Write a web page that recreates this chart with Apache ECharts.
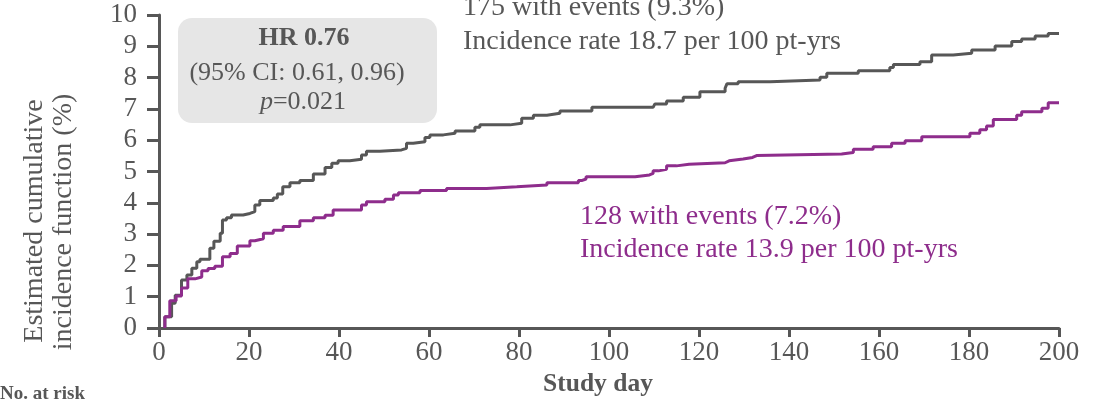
<!DOCTYPE html>
<html>
<head>
<meta charset="utf-8">
<script src="https://cdn.jsdelivr.net/npm/echarts@6/dist/echarts.min.js"></script>
<style>
html,body{margin:0;padding:0;background:#fff;}
#chart{width:1114px;height:405px;}
</style>
</head>
<body>
<div id="chart"></div>
<script>
// Study day ticks
var xTicks = [0, 20, 40, 60, 80, 100, 120, 140, 160, 180, 200];
var yTicks = [0, 1, 2, 3, 4, 5, 6, 7, 8, 9, 10];

// Gray group: [study day, cumulative incidence %]
var grayDays = [1.3, 2.8, 3.6, 5.0, 6.2, 7.3, 8.4, 9.1, 11.3, 12.2, 13.6, 14.1, 15, 16.1, 18.7, 20.2, 21.3, 22.4, 25.4, 26.3, 27.5, 29.1, 31.3, 34.3, 36.9, 38.4, 39.8, 42.4, 45, 46.1, 49.1, 53.9, 55, 56.5, 59.1, 60.2, 63.2, 65.8, 70.2, 71.3, 78, 80.6, 83.2, 86.2, 89.1, 96.2, 109.8, 110.2, 112.8, 116.5, 120.2, 125.8, 126.2, 128.7, 135.8, 146.9, 148.4, 155.4, 162.4, 163.2, 169.1, 171.7, 176.5, 180.6, 185.8, 189.5, 191.7, 194.7, 197.6, 200];
var grayVals = [0.36, 0.79, 1.05, 1.53, 1.69, 1.91, 2.12, 2.2, 2.55, 2.77, 3.03, 3.45, 3.52, 3.61, 3.66, 3.72, 3.93, 4.07, 4.15, 4.28, 4.51, 4.64, 4.71, 4.92, 5.13, 5.26, 5.34, 5.39, 5.53, 5.65, 5.69, 5.74, 5.9, 5.95, 6.09, 6.17, 6.22, 6.29, 6.41, 6.49, 6.54, 6.70, 6.80, 6.86, 6.93, 7.05, 7.09, 7.16, 7.25, 7.37, 7.55, 7.66, 7.80, 7.87, 7.92, 8.01, 8.14, 8.22, 8.32, 8.42, 8.51, 8.72, 8.78, 8.88, 9.01, 9.15, 9.23, 9.33, 9.41, 9.41];

// Purple group
var purpleDays = [1.3, 2.4, 3.8, 5.0, 6.4, 8, 9.5, 10.9, 12.4, 14.1, 15.8, 17.4, 20.2, 21.3, 23.2, 25.4, 27.6, 31.3, 34.3, 36.9, 38.7, 45, 46.1, 50.2, 52.1, 53.2, 58, 63.9, 72.8, 79.5, 86.2, 93.2, 93.9, 94.9, 105.8, 109, 109.8, 111, 112.8, 115, 117.8, 125.8, 126.7, 129.8, 131.9, 132.8, 151.7, 154.3, 158.7, 162.8, 165.8, 169.5, 180.2, 182.4, 183.9, 185.4, 190.6, 191.7, 196.2, 197.6, 200];
var purpleVals = [0.36, 0.87, 1.02, 1.28, 1.57, 1.63, 1.83, 1.9, 1.97, 2.28, 2.38, 2.62, 2.79, 2.85, 3.03, 3.12, 3.24, 3.43, 3.52, 3.6, 3.77, 3.93, 4.03, 4.11, 4.25, 4.32, 4.39, 4.46, 4.51, 4.57, 4.64, 4.71, 4.76, 4.83, 4.89, 4.94, 5.02, 5.07, 5.18, 5.23, 5.28, 5.34, 5.40, 5.45, 5.51, 5.56, 5.61, 5.71, 5.79, 5.90, 5.98, 6.11, 6.22, 6.33, 6.45, 6.66, 6.80, 6.91, 7.02, 7.20, 7.20];

var GRAY = '#575757';
var PURPLE = '#8e2d8c';
var FONT = '"Liberation Serif", "Times New Roman", serif';

function pairs(xs, ys) {
  var out = [[xs[0], 0]];
  for (var i = 0; i < xs.length; i++) out.push([xs[i], ys[i]]);
  return out;
}

var chart = echarts.init(document.getElementById('chart'));
chart.setOption({
  animation: false,
  backgroundColor: '#ffffff',
  grid: {left: 159, right: 55, top: 15, bottom: 77},
  xAxis: {
    type: 'value', min: xTicks[0], max: xTicks[xTicks.length - 1], interval: 20,
    axisLine: {show: true, lineStyle: {color: GRAY, width: 3}},
    axisTick: {show: true, inside: false, length: 9, lineStyle: {color: GRAY, width: 3}},
    axisLabel: {color: GRAY, fontFamily: FONT, fontSize: 27, margin: 11},
    splitLine: {show: false}
  },
  yAxis: {
    type: 'value', min: yTicks[0], max: yTicks[yTicks.length - 1], interval: 1,
    axisLine: {show: true, lineStyle: {color: GRAY, width: 3}},
    axisTick: {show: true, inside: false, length: 12, lineStyle: {color: GRAY, width: 3}},
    axisLabel: {color: GRAY, fontFamily: FONT, fontSize: 27, margin: 22},
    splitLine: {show: false}
  },
  series: [
    {type: 'line', step: 'end', data: pairs(grayDays, grayVals), showSymbol: false, symbol: 'none',
      lineStyle: {color: GRAY, width: 3}, z: 3},
    {type: 'line', step: 'end', data: pairs(purpleDays, purpleVals), showSymbol: false, symbol: 'none',
      lineStyle: {color: PURPLE, width: 3}, z: 4}
  ],
  graphic: [
    {type: 'rect', shape: {x: 178, y: 18, width: 259, height: 105, r: 14}, style: {fill: '#e6e6e6'}, z: 1},
    {type: 'text', x: 304, y: 38, style: {text: 'HR 0.76', font: 'bold 26px ' + FONT, fill: GRAY, align: 'center', verticalAlign: 'middle'}, z: 10},
    {type: 'text', x: 297, y: 73, style: {text: '(95% CI: 0.61, 0.96)', font: '26px ' + FONT, fill: GRAY, align: 'center', verticalAlign: 'middle'}, z: 10},
    {type: 'text', x: 303, y: 102, style: {text: '{i|p}=0.021', font: '26px ' + FONT, fill: GRAY, align: 'center', verticalAlign: 'middle',
      rich: {i: {fontStyle: 'italic', fontFamily: FONT, fontSize: 26, fill: GRAY}}}, z: 10},
    {type: 'text', x: 463, y: 8, style: {text: '175 with events (9.3%)', font: '28px ' + FONT, fill: GRAY, align: 'left', verticalAlign: 'middle'}, z: 10},
    {type: 'text', x: 463, y: 42, style: {text: 'Incidence rate 18.7 per 100 pt-yrs', font: '28px ' + FONT, fill: GRAY, align: 'left', verticalAlign: 'middle'}, z: 10},
    {type: 'text', x: 580, y: 217, style: {text: '128 with events (7.2%)', font: '28px ' + FONT, fill: PURPLE, align: 'left', verticalAlign: 'middle'}, z: 10},
    {type: 'text', x: 580, y: 250, style: {text: 'Incidence rate 13.9 per 100 pt-yrs', font: '28px ' + FONT, fill: PURPLE, align: 'left', verticalAlign: 'middle'}, z: 10},
    {type: 'text', x: 35, y: 221, rotation: Math.PI / 2, style: {text: 'Estimated cumulative', font: '28px ' + FONT, fill: GRAY, align: 'center', verticalAlign: 'middle'}, z: 10},
    {type: 'text', x: 64, y: 222, rotation: Math.PI / 2, style: {text: 'incidence function (%)', font: '28px ' + FONT, fill: GRAY, align: 'center', verticalAlign: 'middle'}, z: 10},
    {type: 'text', x: 598, y: 384, style: {text: 'Study day', font: 'bold 25.5px ' + FONT, fill: GRAY, align: 'center', verticalAlign: 'middle'}, z: 10},
    {type: 'text', x: 0, y: 394, style: {text: 'No. at risk', font: 'bold 19px ' + FONT, fill: GRAY, align: 'left', verticalAlign: 'middle'}, z: 10}
  ]
});
</script>
</body>
</html>
